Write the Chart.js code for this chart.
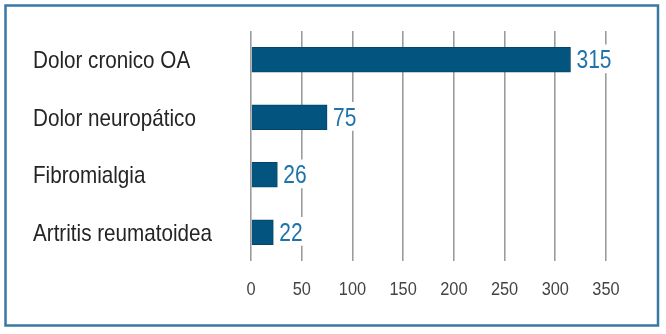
<!DOCTYPE html>
<html>
<head>
<meta charset="utf-8">
<script src="https://cdn.jsdelivr.net/npm/chart.js@4/dist/chart.umd.min.js"></script>
<style>
  html, body { margin: 0; padding: 0; background: #fff; }
  #wrap { width: 666px; height: 334px; }
</style>
</head>
<body>
<div id="wrap"><canvas id="myChart" width="666" height="334"></canvas></div>
<script>
var categories = ['Dolor cronico OA', 'Dolor neuropático', 'Fibromialgia', 'Artritis reumatoidea'];
var values = [315, 75, 26, 22];
var xTicks = [0, 50, 100, 150, 200, 250, 300, 350];

var FONT = "'Liberation Sans', Arial, sans-serif";

// no narrow font installed, so squeeze Liberation Sans horizontally
function narrowText(c, text, x, y, align, size, sx, color, bg) {
    c.save();
    c.translate(x, y);
    c.scale(sx, 1);
    c.font = size + 'px ' + FONT;
    c.textAlign = align;
    c.textBaseline = 'alphabetic';
    if (bg) {
        var w = c.measureText(text).width;
        c.fillStyle = bg;
        c.fillRect(-3, -size * 0.95, w + 6, size * 1.15);
    }
    c.fillStyle = color;
    c.fillText(text, 0, 0);
    c.restore();
}

// frame around the whole figure
var framePlugin = {
    id: 'frame',
    beforeDraw: function (chart) {
        var c = chart.ctx;
        c.save();
        c.fillStyle = '#fff';
        c.fillRect(0, 0, chart.width, chart.height);
        c.strokeStyle = '#3a78a4';
        c.lineWidth = 2.5;
        c.strokeRect(5.5, 5.5, 652.5, 320);
        c.restore();
    }
};

// axis labels and the numbers after each bar
var textPlugin = {
    id: 'texts',
    afterDatasetsDraw: function (chart) {
        var c = chart.ctx;
        var xs = chart.scales.x;
        var ys = chart.scales.y;
        var meta = chart.getDatasetMeta(0);

        categories.forEach(function (cat, i) {
            var y = ys.getPixelForValue(i);
            narrowText(c, cat, 33, y + 8.5, 'left', 24, 0.86, '#242424');
        });

        meta.data.forEach(function (bar, i) {
            narrowText(c, String(values[i]), bar.x + 6, bar.y + 8.5, 'left', 25, 0.84, '#1f72aa', '#fff');
        });

        xTicks.forEach(function (v) {
            narrowText(c, String(v), xs.getPixelForValue(v), chart.chartArea.bottom + 34, 'center', 19, 0.86, '#444');
        });
    }
};

var ctx = document.getElementById('myChart').getContext('2d');
var myChart = new Chart(ctx, {
    type: 'bar',
    data: {
        labels: categories,
        datasets: [
            {
                data: values,
                backgroundColor: '#03557f',
                borderColor: '#02476b',
                borderWidth: 1,
                barThickness: 25,
            },
        ],
    },
    options: {
        indexAxis: 'y',
        responsive: false,
        animation: false,
        layout: {
            padding: { left: 33, top: 31, right: 60, bottom: 73 },
        },
        plugins: {
            legend: { display: false },
            tooltip: { enabled: false },
        },
        scales: {
            x: {
                min: 0,
                max: 350,
                afterBuildTicks: function (scale) {
                    scale.ticks = xTicks.map(function (v) { return { value: v }; });
                },
                grid: {
                    color: '#9c9c9c',
                    lineWidth: 1.6,
                    drawTicks: false,
                },
                border: { display: false },
                ticks: { display: false },
            },
            y: {
                grid: { display: false },
                border: { display: false },
                afterFit: function (scale) {
                    scale.width = 218;
                },
                ticks: { display: false },
            },
        },
    },
    plugins: [framePlugin, textPlugin],
});
</script>
</body>
</html>
